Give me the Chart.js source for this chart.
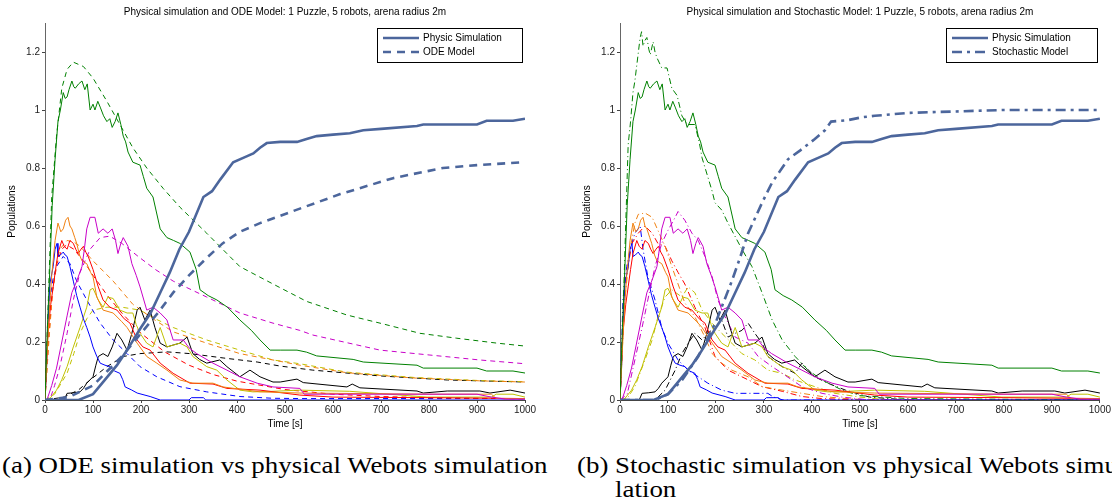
<!DOCTYPE html>
<html><head><meta charset="utf-8">
<script src="https://cdn.jsdelivr.net/npm/chart.js@4"></script>
<style>
body{margin:0;background:#fff;width:1112px;height:503px;overflow:hidden;position:relative}
canvas{position:absolute;top:0}
#c1{left:0}
#c2{left:575px}
.cap{position:absolute;font-family:"Liberation Serif","DejaVu Serif",serif;font-size:24px;line-height:24px;white-space:nowrap;color:#000;transform:scaleX(1.12);transform-origin:0 0}
#capA{left:2px;top:453px}
#capB{left:577px;top:453px}
</style></head><body>
<canvas id="c1" width="550" height="430"></canvas>
<canvas id="c2" width="537" height="430"></canvas>
<div class="cap" id="capA">(a) ODE simulation vs physical Webots simulation</div>
<div class="cap" id="capB">(b) Stochastic simulation vs physical Webots simu-<br><span style="padding-left:34px">lation</span></div>
<script>
// tick labels
const xTicks = [0,100,200,300,400,500,600,700,800,900,1000];
const yTicks = [0,0.2,0.4,0.6,0.8,1,1.2];

// physical (Webots) simulation, [time, population]
const physic = [[0,0],[70,0],[100,0.02],[120,0.06],[150,0.12],[170,0.17],[185,0.21],[200,0.25],[220,0.30],[240,0.37],[260,0.44],[280,0.52],[300,0.58],[330,0.70],[348,0.72],[365,0.76],[392,0.82],[420,0.84],[434,0.85],[448,0.87],[462,0.886],[490,0.89],[525,0.89],[545,0.90],[566,0.91],[600,0.915],[635,0.92],[663,0.93],[700,0.935],[775,0.945],[788,0.95],[900,0.95],[920,0.963],[975,0.963],[1000,0.97]];
const greenPhys = [[0,0],[5,0.25],[10,0.45],[15,0.67],[21,0.83],[27,0.96],[32,1.0],[38,1.06],[42,1.04],[46,1.045],[50,1.07],[56,1.10],[60,1.08],[63,1.075],[70,1.09],[77,1.10],[83,1.07],[88,1.09],[94,1.0],[100,1.02],[104,1.0],[110,1.03],[115,1.01],[122,0.98],[129,0.96],[135,0.97],[140,0.94],[146,0.96],[152,0.99],[158,0.95],[163,0.91],[168,0.89],[173,0.855],[183,0.82],[198,0.81],[205,0.77],[212,0.73],[225,0.70],[240,0.59],[254,0.56],[268,0.55],[281,0.54],[302,0.51],[315,0.45],[323,0.38],[340,0.36],[358,0.345],[380,0.32],[406,0.276],[430,0.24],[448,0.207],[469,0.172],[490,0.172],[525,0.172],[545,0.165],[566,0.152],[642,0.14],[663,0.131],[775,0.12],[788,0.11],[900,0.11],[920,0.10],[975,0.10],[1000,0.093]];
const magentaPhys = [[0,0],[4,0],[14,0.05],[24,0.11],[35,0.2],[46,0.29],[56,0.37],[66,0.41],[77,0.46],[82,0.52],[87,0.59],[94,0.63],[104,0.63],[111,0.575],[121,0.59],[131,0.575],[140,0.59],[147,0.55],[152,0.505],[158,0.54],[163,0.56],[173,0.53],[181,0.47],[190,0.43],[198,0.39],[212,0.31],[225,0.32],[240,0.30],[254,0.276],[267,0.207],[288,0.207],[300,0.18],[316,0.16],[350,0.127],[379,0.103],[406,0.08],[442,0.058],[475,0.045],[531,0.04],[540,0.02],[900,0.02],[930,0.01],[960,0.003],[1000,0.003]];
const orangePhys = [[0,0],[3,0.1],[6,0.21],[10,0.33],[14,0.43],[21,0.55],[27,0.61],[33,0.58],[38,0.59],[43,0.62],[48,0.63],[52,0.6],[56,0.59],[62,0.56],[66,0.54],[72,0.5],[77,0.48],[87,0.47],[95,0.44],[100,0.425],[108,0.355],[121,0.31],[142,0.30],[160,0.27],[171,0.25],[192,0.196],[212,0.15],[233,0.127],[254,0.103],[281,0.069],[308,0.058],[350,0.058],[371,0.045],[421,0.034],[448,0.028],[531,0.024],[800,0.02],[930,0.02],[940,0.005],[1000,0.005]];
const redPhys = [[0,0],[3,0.12],[6,0.23],[12,0.33],[17,0.39],[22,0.45],[27,0.505],[35,0.55],[40,0.53],[46,0.52],[52,0.55],[59,0.54],[64,0.52],[69,0.505],[75,0.52],[80,0.53],[85,0.51],[90,0.495],[100,0.45],[111,0.39],[121,0.345],[135,0.32],[150,0.31],[165,0.28],[177,0.265],[192,0.207],[204,0.183],[219,0.172],[240,0.127],[267,0.092],[302,0.058],[350,0.055],[379,0.04],[448,0.034],[531,0.017],[600,0.01],[800,0.008],[1000,0.005]];
const bluePhys = [[0,0],[3,0.1],[6,0.25],[10,0.40],[17,0.46],[21,0.52],[25,0.54],[27,0.495],[32,0.5],[38,0.51],[42,0.5],[46,0.495],[52,0.46],[59,0.41],[66,0.36],[73,0.32],[80,0.28],[87,0.25],[94,0.217],[100,0.183],[108,0.15],[115,0.127],[125,0.12],[135,0.115],[145,0.1],[156,0.092],[162,0.07],[167,0.045],[180,0.035],[192,0.024],[219,0.012],[240,0],[300,0],[305,0.008],[330,0.008],[335,0],[1000,0]];
const yellowPhys = [[0,0],[10,0.005],[24,0.034],[35,0.07],[46,0.115],[59,0.183],[73,0.25],[87,0.32],[94,0.38],[100,0.385],[111,0.345],[121,0.32],[131,0.355],[142,0.35],[156,0.31],[171,0.30],[183,0.30],[190,0.26],[198,0.23],[212,0.196],[225,0.183],[233,0.22],[240,0.25],[254,0.183],[281,0.196],[296,0.183],[308,0.15],[337,0.115],[358,0.103],[379,0.069],[406,0.034],[433,0.028],[475,0.03],[531,0.034],[635,0.03],[796,0.01],[930,0.01],[940,0.02],[975,0.02],[1000,0.01]];
const blackPhys = [[0,0],[40,0],[46,0.023],[60,0.025],[73,0.028],[80,0.04],[87,0.058],[100,0.08],[106,0.12],[111,0.15],[121,0.16],[131,0.15],[140,0.183],[150,0.23],[160,0.207],[171,0.172],[181,0.23],[192,0.31],[198,0.32],[208,0.276],[219,0.31],[229,0.25],[240,0.196],[254,0.183],[268,0.19],[281,0.196],[296,0.217],[308,0.16],[322,0.14],[337,0.127],[364,0.138],[379,0.115],[406,0.08],[427,0.103],[448,0.08],[475,0.062],[490,0.062],[525,0.072],[538,0.06],[629,0.045],[640,0.055],[656,0.042],[775,0.031],[788,0.024],[838,0.031],[906,0.031],[927,0.024],[969,0.034],[1000,0.024]];

// ODE model
const odeModel = [[0,0],[50,0.01],[100,0.05],[130,0.10],[160,0.15],[200,0.23],[235,0.30],[267,0.37],[300,0.43],[337,0.49],[370,0.54],[406,0.58],[448,0.61],[490,0.635],[531,0.66],[615,0.71],[725,0.765],[829,0.80],[900,0.81],[1000,0.82]];
const greenOde = [[0,0],[7,0.35],[14,0.70],[24,0.91],[35,1.075],[46,1.14],[59,1.165],[80,1.15],[100,1.11],[129,1.03],[156,0.95],[183,0.87],[212,0.80],[246,0.73],[281,0.665],[337,0.575],[406,0.46],[475,0.40],[545,0.34],[629,0.293],[698,0.265],[781,0.23],[858,0.213],[942,0.196],[1000,0.186]];
const magentaOde = [[0,0],[10,0],[20,0.05],[31,0.115],[46,0.23],[59,0.345],[73,0.44],[94,0.52],[115,0.56],[135,0.565],[160,0.54],[198,0.49],[230,0.45],[267,0.41],[337,0.355],[406,0.30],[475,0.265],[531,0.24],[558,0.224],[698,0.172],[802,0.155],[906,0.138],[1000,0.125]];
const orangeOde = [[0,0],[8,0.2],[16,0.38],[24,0.47],[31,0.52],[46,0.55],[60,0.545],[73,0.53],[100,0.48],[142,0.41],[183,0.33],[225,0.28],[267,0.235],[337,0.196],[406,0.16],[475,0.138],[531,0.12],[629,0.094],[767,0.076],[906,0.066],[1000,0.062]];
const redOde = [[0,0],[8,0.22],[16,0.38],[25,0.47],[35,0.52],[45,0.535],[60,0.52],[80,0.48],[100,0.43],[130,0.36],[160,0.3],[200,0.23],[250,0.165],[300,0.12],[350,0.088],[400,0.065],[500,0.036],[600,0.02],[700,0.012],[800,0.008],[1000,0.004]];
const blueOde = [[0,0],[4,0.15],[10,0.345],[17,0.42],[24,0.46],[38,0.495],[52,0.47],[66,0.41],[87,0.345],[115,0.265],[142,0.207],[171,0.16],[198,0.115],[233,0.08],[281,0.046],[337,0.028],[406,0.012],[475,0.006],[531,0.005],[1000,0.005]];
const yellowOde = [[0,0],[20,0.02],[46,0.092],[60,0.16],[73,0.23],[87,0.28],[100,0.31],[129,0.32],[160,0.32],[198,0.31],[230,0.28],[267,0.25],[337,0.207],[406,0.172],[475,0.138],[531,0.125],[629,0.096],[767,0.078],[906,0.067],[1000,0.063]];
const blackOde = [[0,0],[40,0.01],[70,0.035],[94,0.069],[129,0.115],[163,0.15],[198,0.16],[254,0.166],[302,0.16],[371,0.145],[442,0.131],[490,0.117],[558,0.103],[698,0.083],[838,0.069],[1000,0.062]];

// stochastic model
const stochModel = [[0,0],[73,0],[100,0.02],[130,0.07],[163,0.15],[200,0.27],[233,0.41],[250,0.49],[267,0.575],[296,0.68],[317,0.75],[350,0.83],[375,0.86],[406,0.90],[427,0.93],[440,0.96],[475,0.965],[504,0.975],[531,0.98],[600,0.99],[700,0.995],[800,1.0],[1000,1.0]];
const greenStoch = [[0,0],[5,0.2],[10,0.5],[17,0.88],[22,0.96],[27,1.06],[31,1.10],[35,1.155],[42,1.25],[45,1.27],[48,1.22],[52,1.24],[56,1.25],[60,1.21],[63,1.19],[69,1.235],[73,1.2],[77,1.18],[87,1.145],[98,1.145],[108,1.075],[119,1.05],[129,0.98],[140,0.95],[156,0.95],[165,0.89],[171,0.835],[192,0.72],[198,0.68],[212,0.655],[225,0.61],[254,0.52],[275,0.46],[296,0.37],[317,0.276],[338,0.207],[365,0.15],[392,0.103],[421,0.069],[463,0.034],[500,0.015],[600,0.005],[1000,0]];
const magentaStoch = [[0,0],[15,0.02],[31,0.138],[46,0.25],[58,0.345],[73,0.46],[87,0.54],[100,0.585],[115,0.63],[121,0.65],[135,0.62],[150,0.575],[163,0.55],[177,0.495],[192,0.425],[204,0.345],[219,0.287],[240,0.217],[267,0.196],[288,0.15],[317,0.115],[338,0.092],[379,0.046],[421,0.023],[463,0.01],[520,0],[1000,0]];
const orangeStoch = [[0,0],[5,0.18],[10,0.345],[21,0.52],[31,0.61],[38,0.64],[52,0.645],[67,0.63],[79,0.585],[94,0.53],[108,0.46],[121,0.40],[135,0.335],[156,0.287],[177,0.217],[192,0.16],[212,0.127],[233,0.103],[267,0.08],[296,0.046],[338,0.034],[379,0.023],[421,0.012],[463,0.006],[520,0],[1000,0]];
const redStoch = [[0,0],[5,0.2],[10,0.40],[25,0.54],[38,0.575],[52,0.60],[67,0.575],[79,0.54],[94,0.53],[108,0.48],[121,0.44],[135,0.40],[156,0.32],[177,0.25],[198,0.15],[225,0.103],[254,0.08],[296,0.046],[338,0.03],[379,0.012],[420,0.005],[500,0],[1000,0]];
const blueStoch = [[0,0],[3,0.15],[6,0.345],[14,0.46],[21,0.52],[31,0.575],[42,0.60],[48,0.52],[58,0.425],[73,0.345],[87,0.25],[100,0.196],[121,0.138],[142,0.103],[163,0.08],[183,0.058],[212,0.034],[240,0.023],[308,0.023],[320,0.01],[340,0],[1000,0]];
const yellowStoch = [[0,0],[15,0.005],[31,0.046],[52,0.138],[67,0.207],[79,0.287],[94,0.355],[108,0.38],[129,0.355],[142,0.39],[156,0.37],[171,0.31],[192,0.265],[212,0.23],[233,0.196],[254,0.16],[281,0.138],[308,0.103],[338,0.092],[365,0.069],[406,0.046],[448,0.023],[500,0.01],[560,0],[1000,0]];
const blackStoch = [[0,0],[73,0],[94,0.034],[115,0.103],[129,0.16],[142,0.196],[156,0.23],[171,0.207],[183,0.23],[198,0.25],[212,0.276],[225,0.217],[240,0.23],[254,0.24],[267,0.265],[281,0.23],[296,0.196],[308,0.15],[338,0.115],[365,0.092],[379,0.127],[406,0.08],[433,0.058],[470,0.034],[520,0.01],[600,0],[1000,0]];

const physColor = "rgb(76,102,156)";
const colors = {green:"#008000", magenta:"#c800c8", orange:"#f08010", red:"#ff0000", blue:"#0000ff", yellow:"#c0c000", black:"#000000"};
const physSeries = {green:greenPhys, magenta:magentaPhys, orange:orangePhys, red:redPhys, blue:bluePhys, yellow:yellowPhys, black:blackPhys};
const odeSeries = {green:greenOde, magenta:magentaOde, orange:orangeOde, red:redOde, blue:blueOde, yellow:yellowOde, black:blackOde};
const stochSeries = {green:greenStoch, magenta:magentaStoch, orange:orangeStoch, red:redStoch, blue:blueStoch, yellow:yellowStoch, black:blackStoch};

const font = "Liberation Sans";

function pts(a) { return a.map(p => ({x: p[0], y: p[1]})); }
function line(data, color, width, dash) {
    return {data: pts(data), borderColor: color, borderWidth: width, borderDash: dash || [], pointRadius: 0, fill: false, tension: 0};
}

const boxLegend = {
    id: "boxLegend",
    afterDraw(chart, args, o) {
        const ctx = chart.ctx, a = chart.chartArea;
        const w = o.width, h = 34, x = Math.round(a.right - 3 - w), y = Math.round(a.top + 5);
        ctx.save();
        ctx.fillStyle = "#fff";
        ctx.fillRect(x, y, w, h);
        ctx.strokeStyle = "#000";
        ctx.lineWidth = 1;
        ctx.strokeRect(x + 0.5, y + 0.5, w, h);
        o.items.forEach((it, i) => {
            const yy = y + 10 + i * 14;
            ctx.beginPath();
            ctx.setLineDash(it.dash);
            ctx.strokeStyle = physColor;
            ctx.lineWidth = 2.5;
            ctx.moveTo(x + 6, yy);
            ctx.lineTo(x + 42, yy);
            ctx.stroke();
            ctx.setLineDash([]);
            ctx.fillStyle = "#000";
            ctx.font = "10px '" + font + "'";
            ctx.textBaseline = "middle";
            ctx.fillText(it.text, x + 46, yy);
        });
        ctx.restore();
    }
};

function makeChart(id, title, model, modelSeries, modelDash, smallDash, modelName, legendW, padRight) {
    const datasets = [line(physic, physColor, 2.6), line(model, physColor, 2.6, modelDash)];
    Object.keys(colors).forEach(k => datasets.push(line(physSeries[k], colors[k], 1)));
    Object.keys(colors).forEach(k => datasets.push(line(modelSeries[k], colors[k], 1, smallDash)));
    new Chart(document.getElementById(id), {
        type: "line",
        data: {datasets: datasets},
        plugins: [boxLegend],
        options: {
            responsive: false,
            animation: false,
            devicePixelRatio: 1,
            layout: {padding: {right: padRight}},
            plugins: {
                legend: {display: false},
                tooltip: {enabled: false},
                title: {display: true, text: title, fullSize: false, color: "#000",
                    font: {family: font, size: 10, weight: "normal"}, padding: {top: 6, bottom: 5}},
                boxLegend: {width: legendW, items: [{text: "Physic Simulation", dash: []}, {text: modelName, dash: modelDash}]}
            },
            scales: {
                x: {
                    type: "linear", min: 0, max: 1000,
                    afterBuildTicks: s => { s.ticks = xTicks.map(v => ({value: v})); },
                    afterFit: s => { s.height = 30; },
                    ticks: {font: {family: font, size: 10}, color: "#222", padding: 1, maxRotation: 0, autoSkip: false, callback: v => String(v)},
                    grid: {drawOnChartArea: false, tickLength: 3, color: "#444"},
                    border: {color: "#444"},
                    title: {display: true, text: "Time [s]", color: "#000", font: {family: font, size: 10}, padding: 0}
                },
                y: {
                    type: "linear", min: 0, max: 1.3,
                    afterBuildTicks: s => { s.ticks = yTicks.map(v => ({value: v})); },
                    afterFit: s => { s.width = 45; },
                    ticks: {font: {family: font, size: 10}, color: "#222", padding: 2, callback: v => String(v)},
                    grid: {drawOnChartArea: false, tickLength: 3, color: "#444"},
                    border: {color: "#666"},
                    title: {display: true, text: "Populations", color: "#000", font: {family: font, size: 10}, padding: {top: 6, bottom: 0}}
                }
            }
        }
    });
}

makeChart("c1", "Physical simulation and ODE Model: 1 Puzzle, 5 robots, arena radius 2m",
    odeModel, odeSeries, [8, 6], [5, 4], "ODE Model", 145, 25);
makeChart("c2", "Physical simulation and Stochastic Model: 1 Puzzle, 5 robots, arena radius 2m",
    stochModel, stochSeries, [10, 5, 3, 5], [6, 3, 1, 3], "Stochastic Model", 151, 12);
</script>
</body></html>
